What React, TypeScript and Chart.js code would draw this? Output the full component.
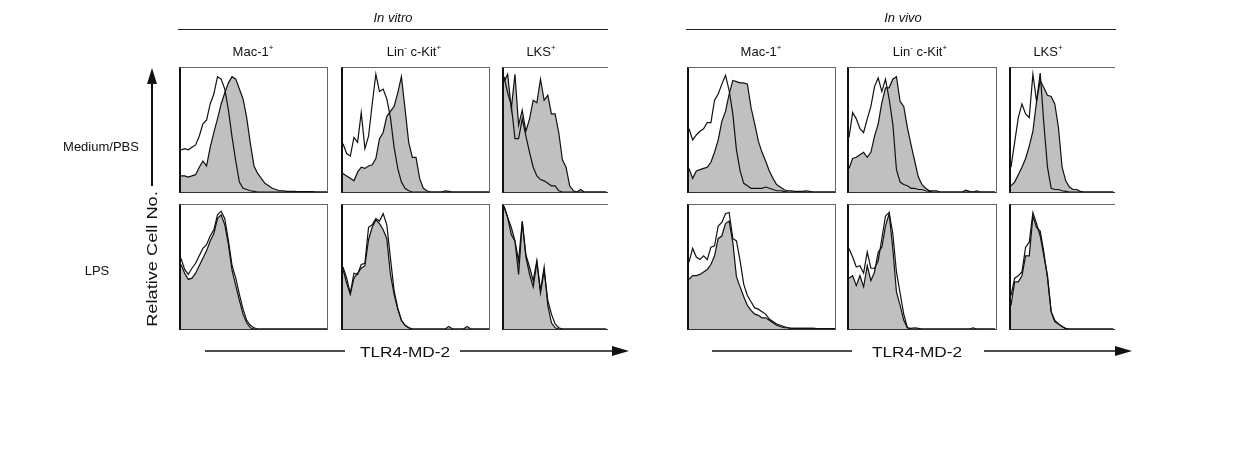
import React, { useEffect, useRef } from "react";
import { Chart, registerables } from "chart.js";

Chart.register(...registerables);

// Fluorescence bins (relative position along TLR4-MD-2 axis, 0..100 across a full panel)
const binGrid = [
  0, 2.5, 5, 7.5, 10, 12.5, 15, 17.5, 20, 22.5, 25, 27.5, 30, 32.5, 35, 37.5, 40, 42.5, 45, 47.5,
  50, 52.5, 55, 57.5, 60, 62.5, 65, 67.5, 70, 72.5, 75, 77.5, 80, 82.5, 85, 87.5, 90, 92.5, 95, 97.5, 100,
];

// ---------- In vitro, Medium/PBS ----------
const vitroMacMedOpen = [34, 35, 34, 36, 38, 45, 55, 58, 71, 79, 93, 91, 83, 66, 44, 25, 8, 3, 2, 1, 0.5, 0, 0, 0, 0, 0, 0, 0, 0, 0, 0, 0, 0, 0, 0, 0, 0, 0, 0, 0, 0];
const vitroMacMedFilled = [13, 13, 12, 13, 14, 20, 25, 21, 36, 48, 59, 71, 80, 88, 93, 91, 83, 75, 60, 39, 21, 15, 11, 7, 5, 3, 2, 1, 1, 0.5, 0.5, 0.5, 0.3, 0.3, 0.3, 0.3, 0.3, 0, 0, 0, 0];
const vitroLinMedOpen = [39, 31, 29, 44, 40, 64, 35, 45, 71, 95, 81, 83, 75, 60, 36, 19, 8, 3, 1, 0, 0, 0, 0, 0, 0, 0, 0, 0, 0, 0, 0, 0, 0, 0, 0, 0, 0, 0, 0, 0, 0];
const vitroLinMedFilled = [15, 13, 11, 9, 16, 20, 19, 21, 22, 27, 43, 48, 61, 65, 69, 80, 93, 67, 40, 28, 28, 11, 3, 1, 0, 0, 0, 0, 1, 0.5, 0, 0, 0, 0, 0, 0, 0, 0, 0, 0, 0];
const vitroLksMedOpen = [93, 80, 70, 43, 43, 59, 45, 32, 20, 13, 10, 9, 7, 5, 5, 1, 0, 0, 0, 0, 0, 0, 0, 0, 0, 0, 0, 0, 0];
const vitroLksMedFilled = [89, 95, 67, 95, 54, 66, 49, 59, 74, 72, 91, 74, 78, 63, 63, 48, 26, 20, 5, 1, 0, 2, 0, 0, 0, 0, 0, 0, 0];

// ---------- In vitro, LPS ----------
const vitroMacLpsOpen = [57, 48, 44, 49, 53, 59, 65, 68, 75, 80, 92, 95, 89, 71, 51, 41, 28, 16, 7, 3, 1, 0, 0, 0, 0, 0, 0, 0, 0, 0, 0, 0, 0, 0, 0, 0, 0, 0, 0, 0, 0];
const vitroMacLpsFilled = [52, 45, 40, 41, 45, 51, 57, 63, 71, 77, 89, 92, 84, 68, 47, 35, 23, 12, 5, 1, 0, 0, 0, 0, 0, 0, 0, 0, 0, 0, 0, 0, 0, 0, 0, 0, 0, 0, 0, 0, 0];
const vitroLinLpsOpen = [50, 41, 29, 45, 44, 52, 53, 82, 84, 89, 87, 93, 84, 57, 31, 17, 7, 3, 1, 0, 0, 0, 0, 0, 0, 0, 0, 0, 0, 2, 0, 0, 0, 0, 2, 0, 0, 0, 0, 0, 0];
const vitroLinLpsFilled = [48, 37, 28, 41, 45, 49, 51, 72, 82, 88, 85, 80, 73, 44, 28, 16, 7, 3, 1, 0, 0, 0, 0, 0, 0, 0, 0, 0, 0, 0, 0, 0, 0, 0, 0, 0, 0, 0, 0, 0, 0];
const vitroLksLpsOpen = [99, 90, 76, 71, 44, 86, 58, 44, 34, 54, 29, 47, 23, 12, 4, 1, 0, 0, 0, 0, 0, 0, 0, 0, 0, 0, 0, 0, 0];
const vitroLksLpsFilled = [99, 90, 82, 71, 55, 87, 60, 50, 39, 55, 31, 50, 19, 5, 1, 0, 0, 0, 0, 0, 0, 0, 0, 0, 0, 0, 0, 0, 0];

// ---------- In vivo, Medium/PBS ----------
const vivoMacMedOpen = [51, 42, 46, 49, 51, 56, 56, 74, 79, 87, 94, 82, 63, 34, 17, 7, 5, 3, 3, 3, 3, 4, 3, 2, 1, 1, 0.5, 0, 0, 0, 0, 0, 0, 0, 0, 0, 0, 0, 0, 0, 0];
const vivoMacMedFilled = [19, 11, 17, 18, 19, 20, 24, 32, 42, 57, 65, 79, 90, 89, 88, 88, 87, 68, 55, 41, 32, 25, 17, 11, 6, 4, 2, 1, 1, 0.5, 0.5, 0.5, 1, 0.5, 0, 0, 0, 0, 0, 0, 0];
const vivoLinMedOpen = [44, 64, 59, 51, 48, 59, 69, 85, 92, 81, 91, 75, 55, 18, 8, 6, 5, 3, 3, 2, 2, 1, 0.5, 0, 0, 0, 0, 0, 0, 0, 0, 0, 0, 0, 0, 0, 0, 0, 0, 0, 0];
const vivoLinMedFilled = [19, 27, 28, 30, 32, 28, 32, 45, 55, 72, 84, 84, 91, 93, 73, 69, 52, 38, 25, 12, 6, 3, 1, 1, 1, 0, 0, 0, 0, 0, 0, 0, 1.5, 0.5, 0, 1, 0, 0, 0, 0, 0];
const vivoLksMedOpen = [20, 40, 60, 71, 63, 60, 95, 73, 96, 55, 20, 3, 2, 2, 1, 0.5, 0, 0, 0, 0, 0, 0, 0, 0, 0, 0, 0, 0, 0];
const vivoLksMedFilled = [5, 8, 14, 20, 27, 37, 49, 73, 90, 84, 78, 77, 71, 52, 20, 9, 4, 2, 2, 0.5, 0, 0, 0, 0, 0, 0, 0, 0, 0];

// ---------- In vivo, LPS ----------
const vivoMacLpsOpen = [54, 65, 58, 56, 59, 56, 66, 67, 83, 86, 93, 94, 73, 71, 55, 36, 27, 22, 17, 16, 14, 12, 8, 6, 4, 3, 2, 1, 0.5, 0.5, 0.5, 0.5, 0.5, 0.5, 0.5, 0.3, 0.3, 0.3, 0.3, 0.3, 0.3];
const vivoMacLpsFilled = [40, 43, 43, 44, 46, 48, 52, 59, 73, 75, 85, 87, 70, 42, 34, 26, 19, 15, 12, 11, 9, 9, 7, 5, 3, 2, 1, 1, 0.5, 0.5, 0.5, 0.5, 0.5, 0.5, 0.5, 0.3, 0.3, 0.3, 0.3, 0.3, 0.3];
const vivoLinLpsOpen = [65, 58, 50, 51, 45, 62, 49, 49, 55, 73, 91, 94, 77, 46, 29, 12, 1, 0.5, 1, 0.5, 0, 0, 0, 0, 0, 0, 0, 0, 0, 0, 0, 0, 0, 0, 1, 0, 0, 0, 0, 0, 0];
const vivoLinLpsFilled = [41, 43, 35, 43, 34, 51, 39, 46, 62, 66, 83, 93, 65, 30, 19, 7, 1, 0, 0, 0, 0, 0, 0, 0, 0, 0, 0, 0, 0, 0, 0, 0, 0, 0, 0, 0, 0, 0, 0, 0, 0];
const vivoLksLpsOpen = [27, 41, 43, 46, 66, 70, 94, 85, 75, 59, 43, 14, 6, 4, 2, 0.5, 0, 0, 0, 0, 0, 0, 0, 0, 0, 0, 0, 0, 0];
const vivoLksLpsFilled = [19, 38, 38, 43, 59, 59, 91, 82, 79, 62, 41, 14, 7, 4, 2, 0, 0, 0, 0, 0, 0, 0, 0, 0, 0, 0, 0, 0, 0];

const FONT = '"Liberation Sans", Arial, Helvetica, sans-serif';

type PanelSpec = {
  left: number;
  top: number;
  width: number;
  height: number;
  open: number[];
  filled: number[];
  noRight?: boolean;
};

const colLefts = [179, 341, 502, 687, 847, 1009];
const colWidths = [149, 149, 106, 149, 150, 106];
const rowTops = [67, 204];
const rowHeight = 126;

const panelData: [number[], number[]][][] = [
  [
    [vitroMacMedOpen, vitroMacMedFilled],
    [vitroLinMedOpen, vitroLinMedFilled],
    [vitroLksMedOpen, vitroLksMedFilled],
    [vivoMacMedOpen, vivoMacMedFilled],
    [vivoLinMedOpen, vivoLinMedFilled],
    [vivoLksMedOpen, vivoLksMedFilled],
  ],
  [
    [vitroMacLpsOpen, vitroMacLpsFilled],
    [vitroLinLpsOpen, vitroLinLpsFilled],
    [vitroLksLpsOpen, vitroLksLpsFilled],
    [vivoMacLpsOpen, vivoMacLpsFilled],
    [vivoLinLpsOpen, vivoLinLpsFilled],
    [vivoLksLpsOpen, vivoLksLpsFilled],
  ],
];

function toPoints(values: number[]) {
  return values.map((y, i) => ({ x: binGrid[i], y }));
}

function Histogram({ spec }: { spec: PanelSpec }) {
  const ref = useRef<HTMLCanvasElement | null>(null);
  const borderL = 2;
  const borderR = spec.noRight ? 0 : 1;
  const innerW = spec.width - borderL - borderR;
  const innerH = spec.height - 2;
  useEffect(() => {
    if (!ref.current) return;
    const xMax = (100 * innerW) / 146;
    const chart = new Chart(ref.current, {
      type: "line",
      data: {
        datasets: [
          {
            data: toPoints(spec.open),
            borderColor: "#111",
            borderWidth: 1.2,
            fill: false,
            pointRadius: 0,
            tension: 0,
            order: 0,
          },
          {
            data: toPoints(spec.filled),
            borderColor: "#111",
            backgroundColor: "#c0c0c0",
            borderWidth: 1.2,
            fill: "origin",
            pointRadius: 0,
            tension: 0,
            order: 1,
          },
        ],
      },
      options: {
        animation: false,
        responsive: false,
        events: [],
        layout: { padding: 0 },
        plugins: { legend: { display: false }, tooltip: { enabled: false } },
        scales: {
          x: { type: "linear", min: 0, max: xMax, display: false },
          y: { min: 0, max: 100, display: false },
        },
      },
    });
    return () => chart.destroy();
  }, []);
  return (
    <div
      style={{
        position: "absolute",
        left: spec.left,
        top: spec.top,
        width: spec.width,
        height: spec.height,
        boxSizing: "border-box",
        borderTop: "1px solid #666",
        borderBottom: "1px solid #333",
        borderLeft: `${borderL}px solid #111`,
        borderRight: spec.noRight ? "none" : "1px solid #666",
        background: "#fff",
      }}
    >
      <canvas ref={ref} width={innerW} height={innerH} style={{ display: "block", width: innerW, height: innerH }} />
    </div>
  );
}

function Label({ x, y, children, size = 13, italic = false, rotate = false, stretch = 1 }: any) {
  return (
    <div
      style={{
        position: "absolute",
        left: x,
        top: y,
        transform: `translate(-50%, -50%)${rotate ? " rotate(-90deg)" : ""} scaleX(${stretch})`,
        whiteSpace: "nowrap",
        fontFamily: FONT,
        fontSize: size,
        fontStyle: italic ? "italic" : "normal",
        color: "#111",
        lineHeight: 1,
      }}
    >
      {children}
    </div>
  );
}

const sup: React.CSSProperties = { fontSize: 8, verticalAlign: "super", lineHeight: 0 };

export default function App() {
  const specs: PanelSpec[] = [];
  rowTops.forEach((top, r) => {
    colLefts.forEach((left, c) => {
      specs.push({
        left,
        top,
        width: colWidths[c],
        height: rowHeight,
        open: panelData[r][c][0],
        filled: panelData[r][c][1],
        noRight: c === 2 || c === 5,
      });
    });
  });

  const headers = [
    { x: 253, t: <>Mac-1<span style={sup}>+</span></> },
    { x: 414, t: <>Lin<span style={sup}>-</span> c-Kit<span style={sup}>+</span></> },
    { x: 541, t: <>LKS<span style={sup}>+</span></> },
    { x: 761, t: <>Mac-1<span style={sup}>+</span></> },
    { x: 920, t: <>Lin<span style={sup}>-</span> c-Kit<span style={sup}>+</span></> },
    { x: 1048, t: <>LKS<span style={sup}>+</span></> },
  ];

  return (
    <div style={{ position: "absolute", left: 0, top: 0, width: 1238, height: 454, background: "#fff", overflow: "hidden" }}>
      {specs.map((s, i) => (
        <Histogram key={i} spec={s} />
      ))}
      <svg width={1238} height={454} style={{ position: "absolute", left: 0, top: 0, pointerEvents: "none" }}>
        <line x1={178} y1={29.5} x2={608} y2={29.5} stroke="#222" strokeWidth={1} />
        <line x1={686} y1={29.5} x2={1116} y2={29.5} stroke="#222" strokeWidth={1} />
        <line x1={152} y1={186} x2={152} y2={80} stroke="#111" strokeWidth={2} />
        <polygon points="147,84 157,84 152,68" fill="#111" />
        <line x1={205} y1={351} x2={345} y2={351} stroke="#111" strokeWidth={1.5} />
        <line x1={460} y1={351} x2={614} y2={351} stroke="#111" strokeWidth={1.5} />
        <polygon points="612,346 612,356 629,351" fill="#111" />
        <line x1={712} y1={351} x2={852} y2={351} stroke="#111" strokeWidth={1.5} />
        <line x1={984} y1={351} x2={1117} y2={351} stroke="#111" strokeWidth={1.5} />
        <polygon points="1115,346 1115,356 1132,351" fill="#111" />
      </svg>
      <Label x={393} y={17} italic>In vitro</Label>
      <Label x={903} y={17} italic>In vivo</Label>
      {headers.map((h, i) => (
        <Label key={i} x={h.x} y={51}>
          {h.t}
        </Label>
      ))}
      <Label x={101} y={146}>Medium/PBS</Label>
      <Label x={97} y={270}>LPS</Label>
      <Label x={152} y={259} size={14} stretch={1.3} rotate>Relative Cell No.</Label>
      <Label x={405} y={351} size={15} stretch={1.15}>TLR4-MD-2</Label>
      <Label x={917} y={351} size={15} stretch={1.15}>TLR4-MD-2</Label>
    </div>
  );
}
